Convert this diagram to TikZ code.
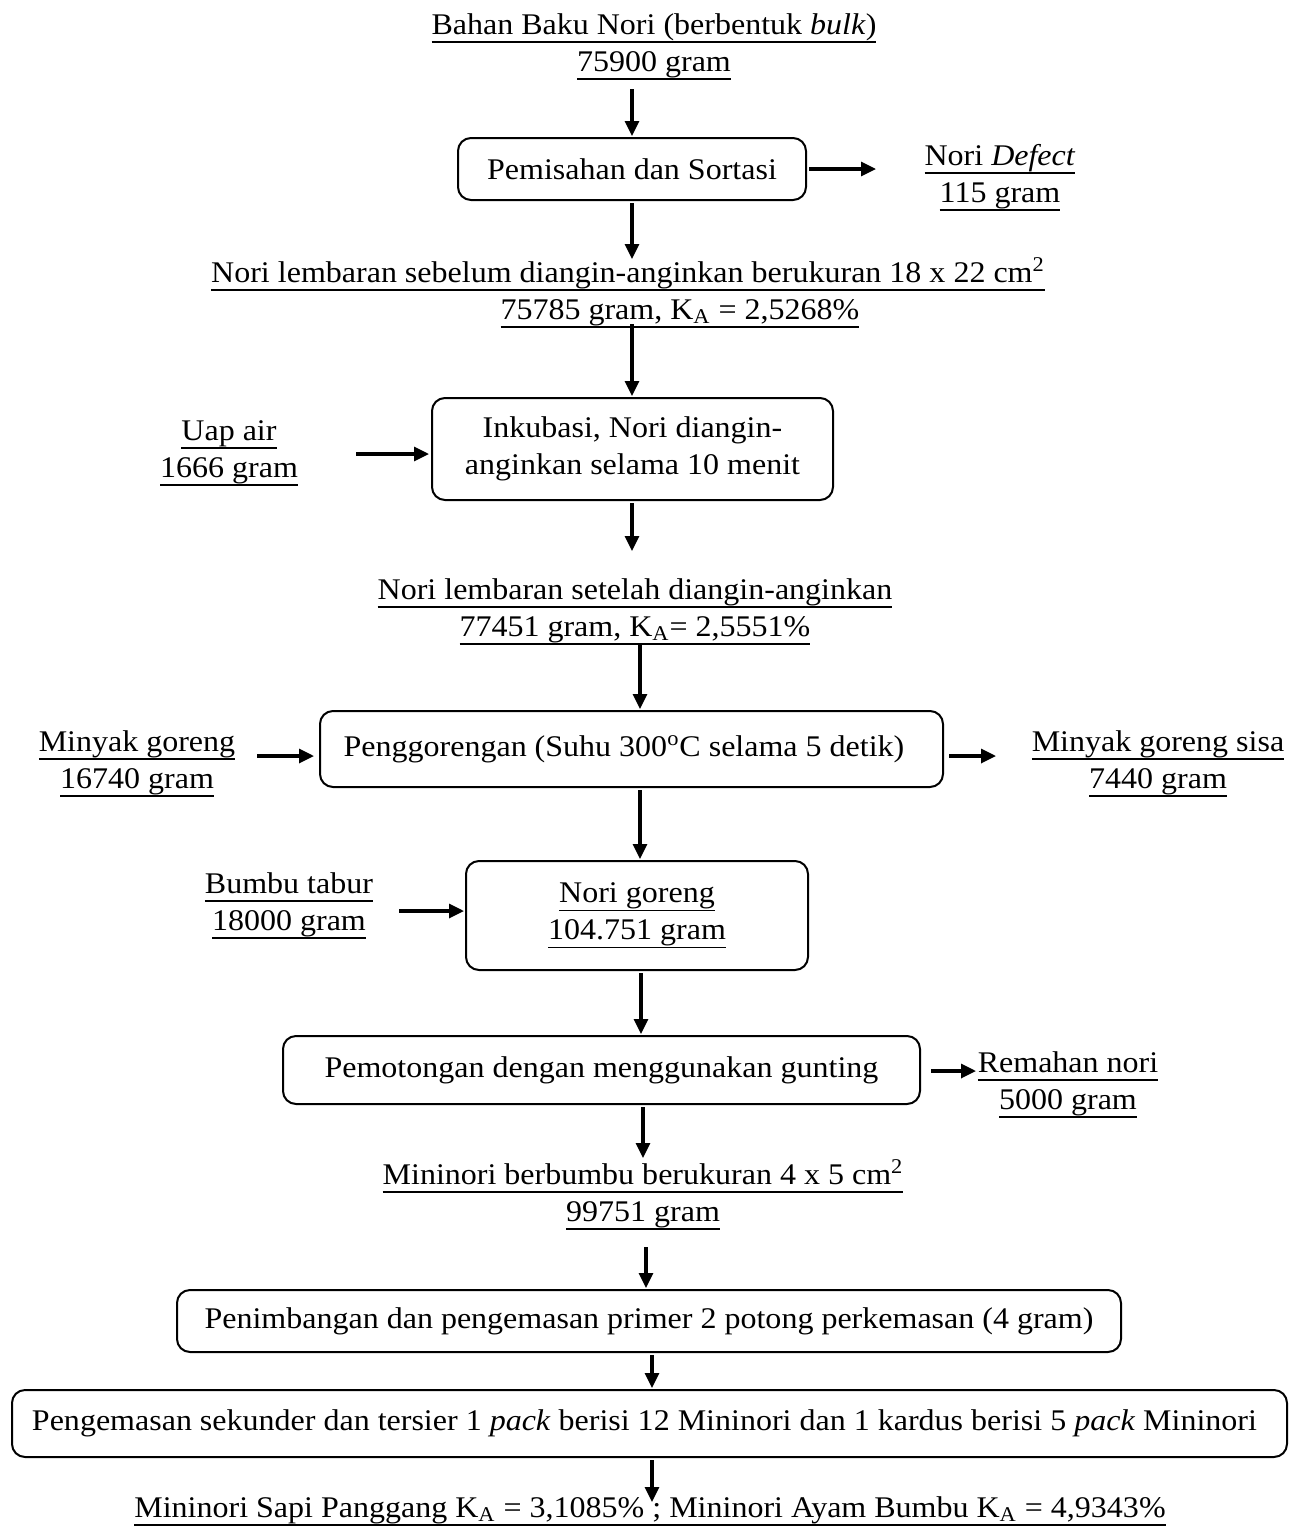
\documentclass[tikz,border=0pt]{standalone}
\usepackage{fontspec}
\setmainfont{Liberation Serif}[FakeStretch=1.067]
\usetikzlibrary{arrows.meta,calc}
\newsavebox\ulnbox
\newcommand\uln[1]{\sbox\ulnbox{#1}\rlap{\rule[-4.4pt]{\wd\ulnbox}{0.9pt}}\usebox\ulnbox}
\newcommand\vin[4]{\draw[arr] let \p1=(#1.south), \p2=(#2.north) in (\x2+#3,\y2+#4) -- (\x2+#3,\y2+0.5pt);}
\newcommand\vout[4]{\draw[arr] let \p1=(#1.south), \p2=(#2.north) in (\x1+#3,\y1-1pt) -- (\x1+#3,\y1-#4);}
\newcommand\vbb[3]{\draw[arr] let \p1=(#1.south), \p2=(#2.north) in (\x1+#3,\y1-1pt) -- (\x1+#3,\y2+0.5pt);}
\newcommand\hin[5]{\draw[arr] let \p1=(#1.east), \p2=(#2.west) in (\x2-#4,\y2+#3) -- (\x2-#5,\y2+#3);}
\newcommand\hout[5]{\draw[arr] let \p1=(#1.east), \p2=(#2.west) in (\x1+#4,\y1+#3) -- (\x1+#5,\y1+#3);}
\begin{document}
\begin{tikzpicture}[x=0.5pt,y=-0.5pt,
  every node/.style={font=\fontsize{15}{18.5}\selectfont},
  txt/.style={align=center, inner sep=0pt, anchor=base},
  pbox/.style={draw, line width=1pt, rounded corners=6.5pt, align=center, inner sep=0pt},
  arr/.style={line width=1.6pt, -{Triangle[length=7.5pt,width=7pt]}}]
\useasboundingbox (0,0) rectangle (1301,1528);

% process boxes
\node[pbox, minimum width=174pt, minimum height=31pt] (b1) at (632,169) {Pemisahan dan Sortasi};
\node[pbox, minimum width=200.5pt, minimum height=51pt] (b2) at (632.5,449) {Inkubasi, Nori diangin-\\anginkan selama 10 menit};
\node[pbox, minimum width=311.5pt, minimum height=38pt] (b3) at (631.5,749) {Penggorengan (Suhu 300\textsuperscript{o}C selama 5 detik)\hspace*{7.5pt}};
\node[pbox, minimum width=171pt, minimum height=54.5pt] (b4) at (637,915.5) {\uln{Nori goreng}\\\uln{104.751 gram}};
\node[pbox, minimum width=318.5pt, minimum height=34pt] (b5) at (601.5,1070) {Pemotongan dengan menggunakan gunting};
\node[pbox, minimum width=472pt, minimum height=31pt] (b6) at (649,1321) {Penimbangan dan pengemasan primer 2 potong perkemasan (4 gram)};
\node[pbox, minimum width=637.5pt, minimum height=33.5pt] (b7) at (649.5,1423.5) {Pengemasan sekunder dan tersier 1 \textit{pack} berisi 12 Mininori dan 1 kardus berisi 5 \textit{pack} Mininori\hspace*{5pt}};

% labels (anchor base = baseline of the last line)
\node[txt] (t1) at (654,71) {\uln{Bahan Baku Nori (berbentuk \textit{bulk})}\\\uln{75900 gram}};
\node[txt] (d1) at (1000,202) {\uln{Nori \textit{Defect}}\\\uln{115 gram}};
\node[txt] (t2) at (628,319) {\uln{Nori lembaran sebelum diangin-anginkan berukuran 18 x 22 cm\textsuperscript{2}}\\\hspace*{52pt}\uln{75785 gram, K\textsubscript{A} = 2,5268\%}};
\node[txt] (u1) at (229,477) {\uln{Uap air}\\\uln{1666 gram}};
\node[txt] (t3) at (635,636) {\uln{Nori lembaran setelah diangin-anginkan}\\\uln{77451 gram, K\textsubscript{A}= 2,5551\%}};
\node[txt] (m1) at (137,788) {\uln{Minyak goreng}\\\uln{16740 gram}};
\node[txt] (m2) at (1158,788) {\uln{Minyak goreng sisa}\\\uln{7440 gram}};
\node[txt] (bt) at (289,930) {\uln{Bumbu tabur}\\\uln{18000 gram}};
\node[txt] (r1) at (1068,1109) {\uln{Remahan nori}\\\uln{5000 gram}};
\node[txt] (t5) at (643,1221) {\uln{Mininori berbumbu berukuran 4 x 5 cm\textsuperscript{2}}\\\uln{99751 gram}};
\node[txt] (tl) at (650,1517) {\uln{Mininori Sapi Panggang K\textsubscript{A} = 3,1085\% ; Mininori Ayam Bumbu K\textsubscript{A} = 4,9343\%}};

% connectors
\vin{t1}{b1}{0pt}{24pt}
\hout{b1}{d1}{0pt}{1pt}{34.5pt}
\vout{b1}{t2}{0pt}{29pt}
\vin{t2}{b2}{-0.25pt}{36.5pt}
\hin{u1}{b2}{-2.5pt}{37.5pt}{1pt}
\vout{b2}{t3}{-0.25pt}{25pt}
\vin{t3}{b3}{4.25pt}{33pt}
\hin{m1}{b3}{-3.5pt}{31pt}{2.5pt}
\hout{b3}{m2}{-3.5pt}{2.5pt}{26pt}
\vbb{b3}{b4}{4.25pt}
\hin{bt}{b4}{2.25pt}{33pt}{0.5pt}
\vbb{b4}{b5}{2pt}
\hout{b5}{r1}{-0.5pt}{5pt}{27.5pt}
\vout{b5}{t5}{20.75pt}{26.5pt}
\vin{t5}{b6}{-1.5pt}{21pt}
\vbb{b6}{b7}{1.5pt}
\vout{b7}{tl}{1.25pt}{22pt}
\end{tikzpicture}
\end{document}
